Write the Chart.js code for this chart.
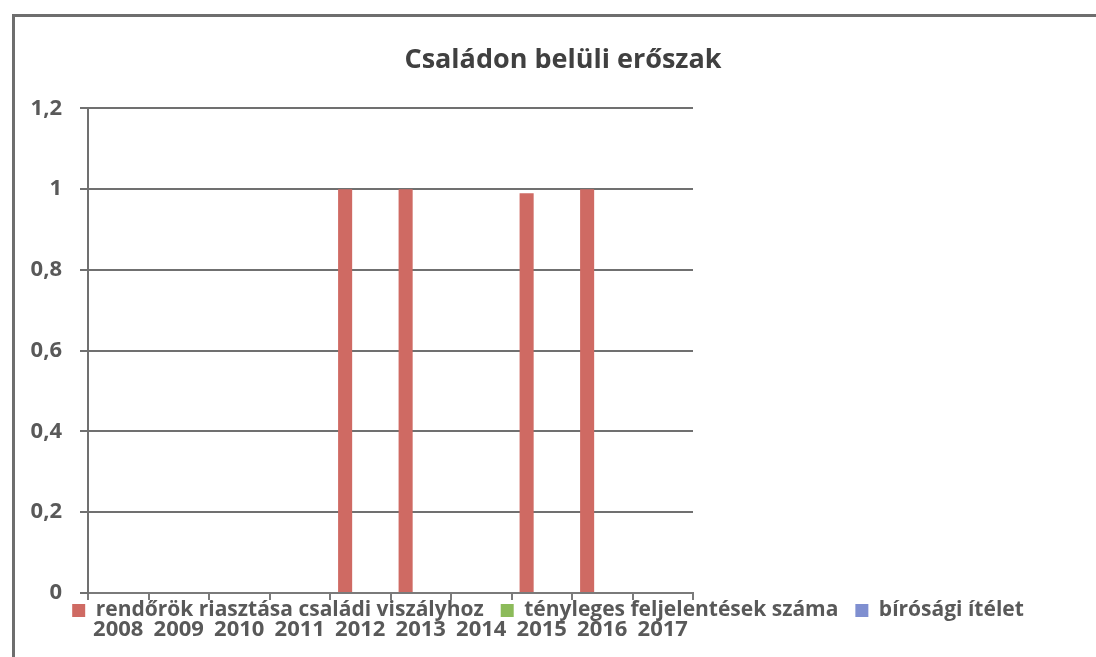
<!DOCTYPE html>
<html>
<head>
<meta charset="utf-8">
<script src="https://cdn.jsdelivr.net/npm/chart.js@4"></script>
<style>
  html, body { margin: 0; padding: 0; background: #fff; overflow: hidden; }
  #frame { position: absolute; left: 12px; top: 14px; width: 1200px; height: 800px; border: 3px solid #6e6e6e; }
  #wrap { position: absolute; left: 0; top: 0; width: 1096px; height: 657px; }
</style>
</head>
<body>
<div id="frame"></div>
<div id="wrap"><canvas id="myChart"></canvas></div>
<script>
// Data
var years = ['2008', '2009', '2010', '2011', '2012', '2013', '2014', '2015', '2016', '2017'];
var rendorok = [0, 0, 0, 0, 1, 1, 0, 0.99, 1, 0];
var feljelentesek = [0, 0, 0, 0, 0, 0, 0, 0, 0, 0];
var itelet = [0, 0, 0, 0, 0, 0, 0, 0, 0, 0];
var yTickLabels = ['0', '0,2', '0,4', '0,6', '0,8', '1', '1,2'];

var textColor = '#595959';
var fontFamily = '"Open Sans", sans-serif';

// the legend in the original sits on top of the year labels:
// move it up after layout and let the x axis box reach down so its labels are not clipped
var legendOverlap = {
    id: 'legendOverlap',
    afterLayout: function(chart) {
        var lg = chart.legend;
        var h = lg.bottom - lg.top;
        lg.top = chart.chartArea.bottom - 10;
        lg.bottom = lg.top + h;
        var xs = chart.scales.x;
        xs.bottom = xs.top + 62;
        xs.height = 62;
        // title is a bit right of centre in the original
        chart.titleBlock.left += 30;
    }
};

var ctx = document.getElementById('myChart').getContext('2d');
var myChart = new Chart(ctx, {
    type: 'bar',
    data: {
        labels: years,
        datasets: [{
            label: 'rendőrök riasztása családi viszályhoz',
            data: rendorok,
            backgroundColor: '#cf6a63',
            borderWidth: 0,
            yAxisID: 'y'
        }, {
            label: 'tényleges feljelentések száma',
            data: feljelentesek,
            backgroundColor: '#8cbb5a',
            borderWidth: 0,
            yAxisID: 'y'
        }, {
            label: 'bírósági ítélet',
            data: itelet,
            backgroundColor: '#7f8fd0',
            borderWidth: 0,
            yAxisID: 'y'
        }]
    },
    plugins: [legendOverlap],
    options: {
        responsive: true,
        maintainAspectRatio: false,
        animation: false,
        categoryPercentage: 0.75,
        barPercentage: 0.93,
        layout: { padding: { top: 44, left: 0, right: 0, bottom: 0 } },
        plugins: {
            title: {
                display: true,
                text: 'Családon belüli erőszak',
                color: '#404040',
                font: { family: fontFamily, size: 27, weight: 'bold' },
                padding: { top: 0, bottom: 32 }
            },
            legend: {
                position: 'bottom',
                labels: {
                    color: textColor,
                    boxWidth: 13,
                    boxHeight: 13,
                    padding: 17,
                    font: { family: fontFamily, size: 21, weight: 'bold' }
                }
            },
            tooltip: { enabled: false }
        },
        scales: {
            x: {
                grid: {
                    display: true,
                    drawOnChartArea: false,
                    drawTicks: true,
                    tickLength: 7,
                    color: '#7a7a7a',
                    lineWidth: 2
                },
                border: { display: true, color: '#7a7a7a', width: 2 },
                ticks: {
                    color: textColor,
                    padding: 17,
                    maxRotation: 0,
                    autoSkip: false,
                    font: { family: fontFamily, size: 22, weight: 'bold' }
                },
                afterFit: function(scale) { scale.height = Math.max(1, 64 - scale.chart.legend.height); }
            },
            y: {
                position: 'left',
                min: 0,
                max: 1.2,
                ticks: {
                    stepSize: 0.2,
                    color: textColor,
                    padding: 18,
                    font: { family: fontFamily, size: 22, weight: 'bold' },
                    callback: function(value, index) { return yTickLabels[index]; }
                },
                grid: { color: '#707070', lineWidth: 2, tickLength: 8 },
                border: { display: true, color: '#707070', width: 2 },
                afterFit: function(scale) { scale.width = 88; }
            },
            yRight: {
                type: 'linear',
                position: 'right',
                display: true,
                grid: { display: false, drawTicks: false },
                border: { display: false },
                ticks: { display: false },
                afterFit: function(scale) { scale.width = 403; }
            }
        }
    }
});
</script>
</body>
</html>
